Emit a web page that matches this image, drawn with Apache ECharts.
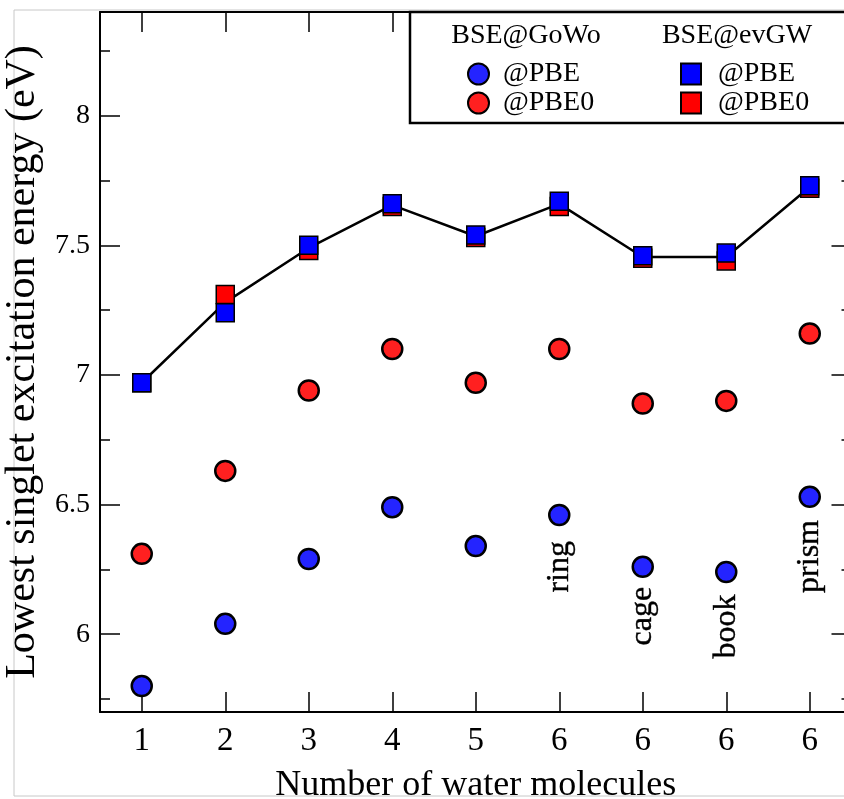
<!DOCTYPE html>
<html>
<head>
<meta charset="utf-8">
<script src="https://cdn.jsdelivr.net/npm/echarts@6/dist/echarts.min.js"></script>
<style>
html,body{margin:0;padding:0;background:#fff;}
#chart{width:844px;height:799px;}
</style>
</head>
<body>
<div id="chart"></div>
<script>
// ---- data ----
const categories = ['1', '2', '3', '4', '5', '6', '6', '6', '6'];
const gowoPBE  = [5.80, 6.04, 6.29, 6.49, 6.34, 6.46, 6.26, 6.24, 6.53];
const gowoPBE0 = [6.31, 6.63, 6.94, 7.10, 6.97, 7.10, 6.89, 6.90, 7.16];
const evgwPBE  = [6.97, 7.24, 7.50, 7.66, 7.54, 7.67, 7.46, 7.47, 7.73];
const evgwPBE0 = [6.97, 7.31, 7.48, 7.65, 7.53, 7.65, 7.45, 7.44, 7.72];
const guideLine = [6.97, 7.28, 7.49, 7.655, 7.535, 7.66, 7.455, 7.455, 7.725];
const annotNames = ['ring', 'cage', 'book', 'prism'];
const annotIndex = [5, 6, 7, 8];
const annotY = [6.26, 6.07, 6.03, 6.30];
const yMajorTicks = [6, 6.5, 7, 7.5, 8];
const yMinorTicks = [5.75, 6.25, 6.75, 7.25, 7.75, 8.25];

const FONT = 'Liberation Serif';
const toXY = arr => arr.map((v, i) => [i, v]);

const chart = echarts.init(document.getElementById('chart'), null, {renderer: 'canvas'});

const tickStyle = {color: '#000', width: 1.5};
const yBase = {type: 'value', min: 5.7, max: 8.4, splitLine: {show: false}, scale: true};

const option = {
  animation: false,
  backgroundColor: '#fff',
  grid: {left: 100, top: 12, width: 751.5, height: 700, containLabel: false, outerBoundsMode: 'none'},
  xAxis: [
    {
      type: 'category', data: categories, position: 'bottom', boundaryGap: true,
      axisLine: {show: true, lineStyle: {color: '#000', width: 2}},
      axisTick: {show: true, inside: true, length: 20, alignWithLabel: true, lineStyle: tickStyle},
      axisLabel: {show: true, fontFamily: FONT, fontSize: 33, color: '#000', margin: 13},
      splitLine: {show: false},
      name: 'Number of water molecules', nameLocation: 'middle', nameGap: 56,
      nameTextStyle: {fontFamily: FONT, fontSize: 36, color: '#000'}
    },
    {
      type: 'category', data: categories, position: 'top', boundaryGap: true,
      axisLine: {show: true, lineStyle: {color: '#000', width: 2}},
      axisTick: {show: true, inside: true, length: 20, alignWithLabel: true, lineStyle: tickStyle},
      axisLabel: {show: false}, splitLine: {show: false}
    }
  ],
  yAxis: [
    Object.assign({}, yBase, {
      position: 'left',
      axisLine: {show: true, lineStyle: {color: '#000', width: 2}},
      axisTick: {show: true, inside: true, length: 20, customValues: yMajorTicks, lineStyle: tickStyle},
      axisLabel: {show: true, customValues: yMajorTicks, fontFamily: FONT, fontSize: 28, color: '#000', margin: 10},
      name: 'Lowest singlet excitation energy (eV)', nameLocation: 'middle', nameGap: 54,
      nameTextStyle: {fontFamily: FONT, fontSize: 42, color: '#000'}
    }),
    Object.assign({}, yBase, {
      position: 'left',
      axisLine: {show: false},
      axisTick: {show: true, inside: true, length: 10, customValues: yMinorTicks, lineStyle: tickStyle},
      axisLabel: {show: false}
    }),
    Object.assign({}, yBase, {
      position: 'right',
      axisLine: {show: true, lineStyle: {color: '#000', width: 2}},
      axisTick: {show: true, inside: true, length: 20, customValues: yMajorTicks, lineStyle: tickStyle},
      axisLabel: {show: false}
    }),
    Object.assign({}, yBase, {
      position: 'right',
      axisLine: {show: false},
      axisTick: {show: true, inside: true, length: 10, customValues: yMinorTicks, lineStyle: tickStyle},
      axisLabel: {show: false}
    })
  ],
  legend: [
    {
      data: ['BSE@GoWo @PBE', 'BSE@GoWo @PBE0'],
      orient: 'vertical', left: 462, top: 55, padding: 5, itemWidth: 21, itemHeight: 21, itemGap: 1,
      z: 20,
      formatter: n => n.split(' ')[1],
      textStyle: {fontFamily: FONT, fontSize: 28, lineHeight: 21, color: '#000', padding: [0, 0, 0, 9]}
    },
    {
      data: ['BSE@evGW @PBE', 'BSE@evGW @PBE0'],
      orient: 'vertical', left: 675, top: 55, padding: 5, itemWidth: 20, itemHeight: 21, itemGap: 1,
      z: 20,
      formatter: n => n.split(' ')[1],
      textStyle: {fontFamily: FONT, fontSize: 28, lineHeight: 21, color: '#000', padding: [0, 0, 0, 12]}
    }
  ],
  graphic: [
    {type: 'rect', z: 0, shape: {x: 14, y: 10, width: 900, height: 786},
     style: {fill: 'none', stroke: '#c8c8c8', lineWidth: 1}},
    {type: 'rect', z: 5, shape: {x: 410, y: 12, width: 460, height: 111},
     style: {fill: '#fff', stroke: '#000', lineWidth: 2.5}},
    {type: 'text', z: 20, x: 526, y: 36,
     style: {text: 'BSE@GoWo', font: '28px "Liberation Serif"', fill: '#000', textAlign: 'center', textVerticalAlign: 'middle'}},
    {type: 'text', z: 20, x: 737, y: 36,
     style: {text: 'BSE@evGW', font: '28px "Liberation Serif"', fill: '#000', textAlign: 'center', textVerticalAlign: 'middle'}}
  ],
  series: [
    {
      name: 'guide', type: 'line', data: toXY(guideLine), symbol: 'none', z: 2,
      lineStyle: {color: '#000', width: 2.5}, silent: true
    },
    {
      name: 'BSE@evGW @PBE0', type: 'scatter', data: toXY(evgwPBE0), symbol: 'rect', symbolSize: 18, z: 3,
      itemStyle: {color: '#ff0000', borderColor: '#000', borderWidth: 1.5, opacity: 1}
    },
    {
      name: 'BSE@evGW @PBE', type: 'scatter', data: toXY(evgwPBE), symbol: 'rect', symbolSize: 18, z: 4,
      itemStyle: {color: '#0000ff', borderColor: '#000', borderWidth: 1.5, opacity: 1}
    },
    {
      name: 'BSE@GoWo @PBE', type: 'scatter', data: toXY(gowoPBE), symbol: 'circle', symbolSize: 20, z: 4,
      itemStyle: {color: '#2424ff', borderColor: '#000', borderWidth: 2.5, opacity: 1}
    },
    {
      name: 'BSE@GoWo @PBE0', type: 'scatter', data: toXY(gowoPBE0), symbol: 'circle', symbolSize: 20, z: 4,
      itemStyle: {color: '#ff2020', borderColor: '#000', borderWidth: 2.5, opacity: 1}
    },
    {
      name: 'annotations', type: 'scatter', symbolSize: 1, z: 5, silent: true,
      itemStyle: {color: 'rgba(0,0,0,0)', borderWidth: 0},
      data: annotNames.map((n, i) => ({name: n, value: [annotIndex[i], annotY[i]]})),
      label: {show: true, position: 'inside', rotate: 90, formatter: '{b}',
              fontFamily: FONT, fontSize: 32, color: '#000', opacity: 1,
              textBorderColor: '#000', textBorderWidth: 0.4}
    }
  ]
};
chart.setOption(option);
</script>
</body>
</html>
